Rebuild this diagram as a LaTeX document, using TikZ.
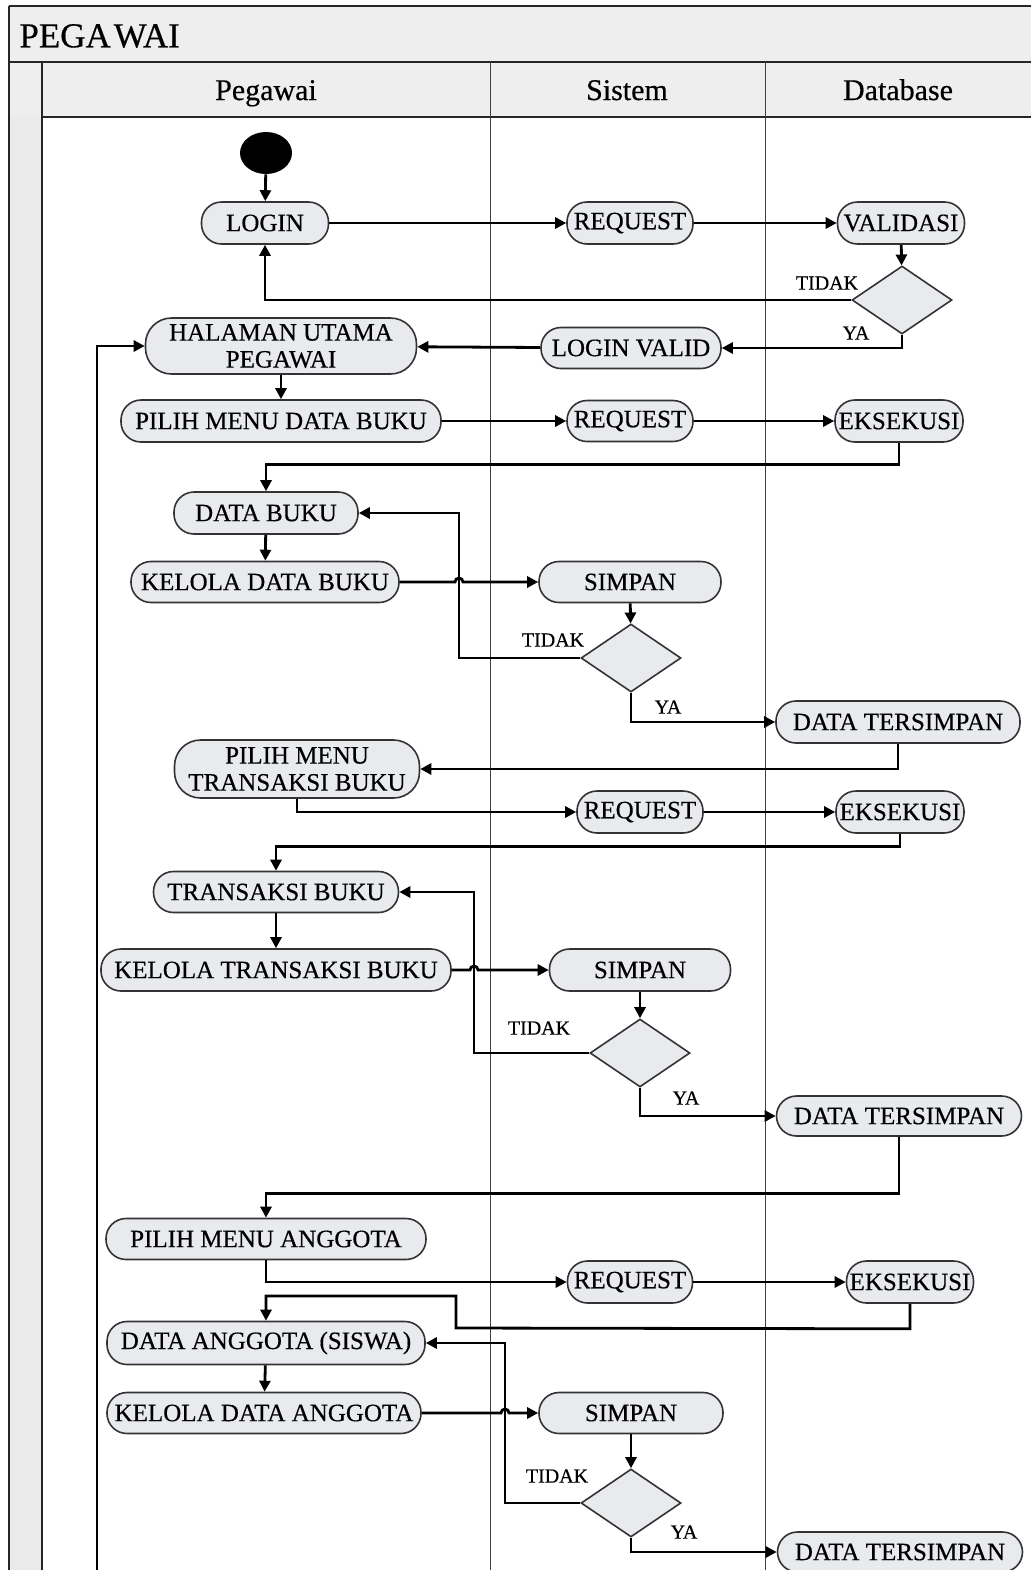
\documentclass[tikz,border=0pt]{standalone}
\usepackage{fontspec}
\setmainfont{Liberation Serif}[FakeBold=0.45]
\usetikzlibrary{arrows.meta,shapes.geometric}

\definecolor{nodefill}{RGB}{232,234,238}
\definecolor{bandfill}{RGB}{238,238,238}
\definecolor{stripfill}{RGB}{234,234,234}

\tikzset{
  act/.style 2 args={draw=black!80, line width=0.8pt, fill=nodefill,
    rounded corners=10pt, minimum width=#1*0.5pt, minimum height=#2*0.5pt,
    inner sep=0pt, align=center, font=\fontsize{12.5}{13.5}\selectfont},
  tall/.style={rounded corners=13pt},
  choice/.style={diamond, draw=black!80, line width=0.8pt, fill=nodefill,
    inner sep=0pt, minimum width=50pt, minimum height=34pt},
  flow/.style={draw=black, line width=1.4pt, -{Triangle[length=5.5pt,width=5.5pt]}},
  guard/.style={font=\fontsize{10}{11}\selectfont, inner sep=0pt},
  frame/.style={draw=black!85, line width=0.9pt},
  lane/.style={draw=black!75, line width=0.5pt},
  lanehead/.style={font=\fontsize{15}{17}\selectfont, anchor=base, inner sep=0pt},
}

\begin{document}
\begin{tikzpicture}[x=0.5pt,y=-0.5pt]
\useasboundingbox (0,0) rectangle (1031,1570);
\fill[white] (0,0) rectangle (1031,1570);

% pool frame and swimlanes
\fill[bandfill] (9,6) rectangle (1031,62);
\fill[bandfill] (9,62) rectangle (1031,117);
\fill[stripfill] (9,117) rectangle (42,1570);
\draw[frame] (9,6) -- (1031,6);
\draw[frame] (9,62) -- (1031,62);
\draw[frame] (42,117) -- (1031,117);
\draw[frame] (9,6) -- (9,1570);
\draw[frame] (42,62) -- (42,1570);
\draw[lane] (490,62) -- (490,1570);
\draw[lane] (765,62) -- (765,1570);

\node[anchor=west, inner sep=0pt, font=\fontsize{17.5}{19}\selectfont] (pool) at (19,36) {PEGA\kern1.5pt WAI};
\node[lanehead] (hpeg) at (266,100) {Pegawai};
\node[lanehead] (hsis) at (627,100) {Sistem};
\node[lanehead] (hdb) at (898,100) {Database};

% activities
\node[ellipse, fill=black, minimum width=26pt, minimum height=21pt, inner sep=0pt] (start) at (266,153) {};
\node[act={127}{42}] (login) at (265,223) {LOGIN};
\node[act={126}{42}] (req1) at (630,223) {REQUEST};
\node[act={127}{42}] (valid) at (901,223) {VALIDASI};
\node[choice] (d1) at (902,300) {};
\node[act={180}{41}] (loginvalid) at (631,348) {LOGIN VALID};
\node[act={271}{56}, tall] (halaman) at (281,346) {HALAMAN UTAMA\\PEGAWAI};

\node[act={320}{42}] (pilihbuku) at (281,421) {PILIH MENU DATA BUKU};
\node[act={126}{41}] (req2) at (630,421) {REQUEST};
\node[act={128}{42}] (eks1) at (899,421) {EKSEKUSI};
\node[act={184}{42}] (databuku) at (266,513) {DATA BUKU};
\node[act={268}{41}] (kelolabuku) at (265,582) {KELOLA DATA BUKU};
\node[act={182}{41}] (simpan1) at (630,582) {SIMPAN};
\node[choice] (d2) at (631,658) {};
\node[act={244}{42}] (tersimpan1) at (898,722) {DATA TERSIMPAN};

\node[act={245}{58}, tall] (pilihtrans) at (297,769) {PILIH MENU\\TRANSAKSI BUKU};
\node[act={126}{42}] (req3) at (640,812) {REQUEST};
\node[act={128}{42}] (eks2) at (900,812) {EKSEKUSI};
\node[act={245}{41}] (transbuku) at (276,892) {TRANSAKSI BUKU};
\node[act={350}{42}] (kelolatrans) at (276,970) {KELOLA TRANSAKSI BUKU};
\node[act={181}{42}] (simpan2) at (640,970) {SIMPAN};
\node[choice] (d3) at (640,1053) {};
\node[act={245}{40}] (tersimpan2) at (899,1116) {DATA TERSIMPAN};

\node[act={320}{41}] (pilihanggota) at (266,1239) {PILIH MENU ANGGOTA};
\node[act={125}{42}] (req4) at (630,1282) {REQUEST};
\node[act={127}{42}] (eks3) at (910,1282) {EKSEKUSI};
\node[act={318}{43}] (dataanggota) at (266,1343) {DATA ANGGOTA (SISWA)};
\node[act={314}{41}] (kelolaanggota) at (264,1413) {KELOLA DATA ANGGOTA};
\node[act={184}{41}] (simpan3) at (631,1413) {SIMPAN};
\node[choice] (d4) at (631,1503) {};
\node[act={245}{40}] (tersimpan3) at (900,1552) {DATA TERSIMPAN};

% guard labels
\node[guard] (g1n) at (827,283) {TIDAK};
\node[guard] (g1y) at (856,333) {YA};
\node[guard] (g2n) at (553,640) {TIDAK};
\node[guard] (g2y) at (668,707) {YA};
\node[guard] (g3n) at (539,1028) {TIDAK};
\node[guard] (g3y) at (686,1098) {YA};
\node[guard] (g4n) at (557,1476) {TIDAK};
\node[guard] (g4y) at (684,1532) {YA};

% login
\draw[flow] (start) -- (login);
\draw[flow] (login) -- (req1);
\draw[flow] (req1) -- (valid);
\draw[flow] (valid) -- (d1);
\draw[flow] (d1.west) -| (login.south);
\draw[flow] (d1.south) |- (loginvalid.east);
\draw[flow] (loginvalid) -- (halaman);
\coordinate (loopfoot) at (97,1570);
\draw[flow] (loopfoot) |- (halaman.west);

% data buku
\draw[flow] (halaman) -- (pilihbuku);
\draw[flow] (pilihbuku) -- (req2);
\draw[flow] (req2) -- (eks1);
\draw[flow] (eks1.south) -- ++(0,22) -| (databuku.north);
\draw[flow] (databuku) -- (kelolabuku);
\draw[flow] (kelolabuku.east) -- (455,582) arc[start angle=180,end angle=0,radius=2pt] -- (simpan1.west);
\draw[flow] (simpan1) -- (d2);
\draw[flow] (d2.west) -- (459,658) |- (databuku.east);
\draw[flow] (d2.south) |- (tersimpan1.west);

% transaksi buku
\draw[flow] (tersimpan1.south) |- (pilihtrans.east);
\draw[flow] (pilihtrans.south) |- (req3.west);
\draw[flow] (req3) -- (eks2);
\draw[flow] (eks2.south) -- ++(0,13) -| (transbuku.north);
\draw[flow] (transbuku) -- (kelolatrans);
\draw[flow] (kelolatrans.east) -- (470,970) arc[start angle=180,end angle=0,radius=2pt] -- (simpan2.west);
\draw[flow] (simpan2) -- (d3);
\draw[flow] (d3.west) -- (474,1053) |- (transbuku.east);
\draw[flow] (d3.south) |- (tersimpan2.west);

% anggota
\draw[flow] (tersimpan2.south) -- ++(0,57) -| (pilihanggota.north);
\draw[flow] (pilihanggota.south) |- (req4.west);
\draw[flow] (req4) -- (eks3);
\draw[flow] (eks3.south) -- ++(0,25) -- (456,1328) -- (456,1296) -| (dataanggota.north);
\draw[flow] (dataanggota) -- (kelolaanggota);
\draw[flow] (kelolaanggota.east) -- (501,1413) arc[start angle=180,end angle=0,radius=2pt] -- (simpan3.west);
\draw[flow] (simpan3) -- (d4);
\draw[flow] (d4.west) -- (505,1503) |- (dataanggota.east);
\draw[flow] (d4.south) |- (tersimpan3.west);
\end{tikzpicture}
\end{document}
